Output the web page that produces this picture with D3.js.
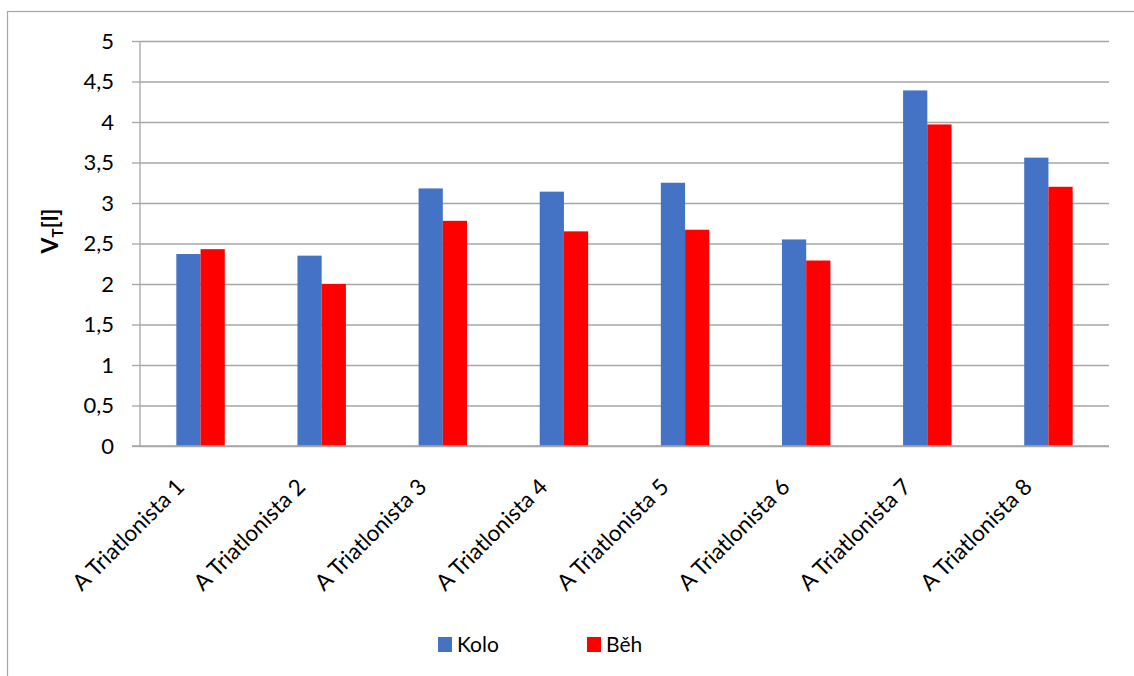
<!DOCTYPE html>
<html>
<head>
<meta charset="utf-8">
<script src="https://cdn.jsdelivr.net/npm/d3@7"></script>
<style>
  html, body { margin: 0; padding: 0; background: #fff; }
  svg { display: block; font-family: Lato, "Open Sans", sans-serif; }
</style>
</head>
<body>
<svg id="chart" width="1134" height="676"></svg>
<script>
// Tidal volume per athlete, cycling vs running
const categories = ["A Triatlonista 1", "A Triatlonista 2", "A Triatlonista 3", "A Triatlonista 4",
                    "A Triatlonista 5", "A Triatlonista 6", "A Triatlonista 7", "A Triatlonista 8"];
const seriesNames = ["Kolo", "Běh"];
const kolo = [2.37, 2.35, 3.18, 3.14, 3.25, 2.55, 4.39, 3.56];
const beh  = [2.43, 2.00, 2.78, 2.65, 2.67, 2.29, 3.97, 3.20];
const yTicks = [0, 0.5, 1, 1.5, 2, 2.5, 3, 3.5, 4, 4.5, 5];
const colors = ["#4472C4", "#FF0000"];

const svg = d3.select("#chart");
const plotLeft = 140, plotRight = 1109, plotTop = 41, plotBottom = 446;

// outer chart frame
svg.append("rect")
  .attr("x", 7.5).attr("y", 11.5)
  .attr("width", 1140).attr("height", 700)
  .attr("fill", "none").attr("stroke", "#a6a6a6").attr("stroke-width", 1.2);

const x = d3.scaleBand().domain(categories).range([plotLeft, plotRight]).paddingInner(0).paddingOuter(0);
const xs = d3.scaleBand().domain(seriesNames).range([0, x.bandwidth()]).paddingInner(0).paddingOuter(1.5);
const y = d3.scaleLinear().domain([0, 5]).range([plotBottom, plotTop]);

// gridlines + y ticks
const yAxis = d3.axisLeft(y).tickValues(yTicks)
  .tickSize(-(plotRight - plotLeft)).tickSizeOuter(0)
  .tickFormat(d => String(d).replace(".", ","));
const gy = svg.append("g").attr("transform", `translate(${plotLeft},0)`).call(yAxis);
gy.attr("font-family", null);
gy.select(".domain").remove();
gy.selectAll(".tick line").attr("stroke", "#a6a6a6").attr("stroke-width", 1.3);
gy.selectAll(".tick").append("line")
  .attr("x1", -8).attr("x2", 0).attr("stroke", "#a6a6a6").attr("stroke-width", 1.3);
gy.selectAll(".tick text").attr("font-size", 22).attr("fill", "#000").attr("x", -26);

// y axis line
svg.append("line").attr("x1", plotLeft).attr("x2", plotLeft).attr("y1", plotTop).attr("y2", plotBottom)
  .attr("stroke", "#a6a6a6").attr("stroke-width", 1.3);

// bars
const data = categories.map((c, i) => ({ c, vals: [kolo[i], beh[i]] }));
const groups = svg.append("g").selectAll("g").data(data).join("g")
  .attr("transform", d => `translate(${x(d.c)},0)`);
groups.selectAll("rect").data(d => d.vals.map((v, j) => ({ v, s: seriesNames[j], j })))
  .join("rect")
  .attr("x", d => xs(d.s))
  .attr("width", xs.bandwidth())
  .attr("y", d => y(d.v))
  .attr("height", d => y(0) - y(d.v))
  .attr("fill", d => colors[d.j]);

// x axis line
svg.append("line").attr("x1", plotLeft - 8).attr("x2", plotRight).attr("y1", plotBottom).attr("y2", plotBottom)
  .attr("stroke", "#a6a6a6").attr("stroke-width", 1.3);

// category labels rotated 45°
svg.append("g").selectAll("text").data(categories).join("text")
  .attr("transform", d => `translate(${x(d) + x.bandwidth() / 2 - 26},${plotBottom + 31}) rotate(-45)`)
  .attr("text-anchor", "end")
  .attr("dy", "0.7em")
  .attr("font-size", 22.5)
  .attr("fill", "#000")
  .text(d => d);

// y axis title V_T[l]
const yt = svg.append("text")
  .attr("transform", "translate(58,231) rotate(-90)")
  .attr("text-anchor", "middle")
  .attr("font-size", 23).attr("font-weight", "bold").attr("fill", "#000");
yt.append("tspan").text("V");
yt.append("tspan").attr("font-size", 15).attr("dy", 5).text("T");
yt.append("tspan").attr("dy", -5).text("[l]");

// legend
const legendX = [438, 587];
const lg = svg.append("g").selectAll("g").data(seriesNames).join("g")
  .attr("transform", (d, i) => `translate(${legendX[i]},637)`);
lg.append("rect").attr("width", 14).attr("height", 15).attr("fill", (d, i) => colors[i]);
lg.append("text").attr("x", 19).attr("y", 15).attr("font-size", 21).attr("fill", "#000").text(d => d);
</script>
</body>
</html>
